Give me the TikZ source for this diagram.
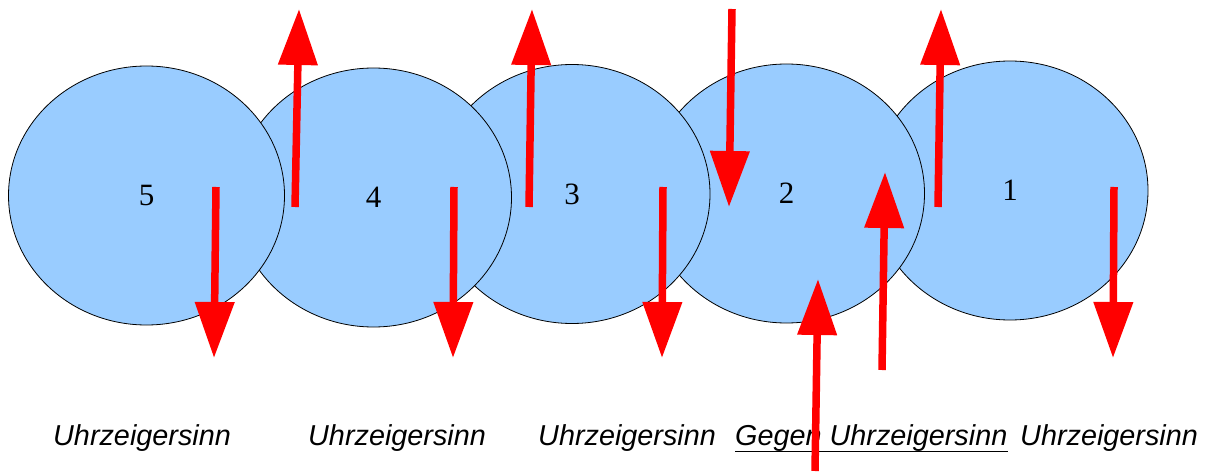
\documentclass[tikz,border=0pt]{standalone}
\usepackage{fontspec}
\setmainfont{Liberation Serif}
\newfontfamily\lblfont{Liberation Sans}
\usetikzlibrary{shapes.geometric,arrows.meta}
\definecolor{gearblue}{HTML}{99CCFF}
\definecolor{arrred}{HTML}{FF0000}
\tikzset{
  gear/.style={ellipse, draw=black, line width=0.8pt, fill=gearblue, inner sep=0pt,
    minimum width=276pt, minimum height=259pt, font=\fontsize{31}{31}\selectfont},
  sense/.style={anchor=base west, inner sep=0pt, font=\lblfont\itshape\fontsize{28.8}{28.8}\selectfont},
  force/.style={draw=arrred, line width=7.5pt,
    -{Triangle[length=56pt, width=38pt]}, arrred},
}
\begin{document}
\begin{tikzpicture}[x=1pt, y=-1pt]
\useasboundingbox (0,0) rectangle (1210,473);
% gears, drawn from 1 to 5 so the left one lies on top
\node[gear] (g1) at (1010,190.5) {1};
\node[gear] (g2) at (786.5,193.5) {2};
\node[gear] (g3) at (572,194) {3};
\node[gear] (g4) at (373.5,197.5) {4};
\node[gear] (g5) at (146.5,195.5) {5};
% labels
\node[sense] (t5) at (53,445) {Uhrzeigersinn};
\node[sense] (t4) at (308,445) {Uhrzeigersinn};
\node[sense] (t3) at (538,445) {Uhrzeigersinn};
\node[sense] (t2) at (735,445) {Gegen Uhrzeigersinn};
\node[sense] (t1) at (1020,445) {Uhrzeigersinn};
\draw[line width=1pt] ([yshift=-6pt]t2.base west) -- ([yshift=-6pt]t2.base east);
% arrow end points
\coordinate (a1s) at (216,187);  \coordinate (a1e) at (214,358);
\coordinate (a2s) at (295,207);  \coordinate (a2e) at (299,9);
\coordinate (a3s) at (454,187);  \coordinate (a3e) at (453,358);
\coordinate (a4s) at (529,207);  \coordinate (a4e) at (532,9);
\coordinate (a5s) at (663,187);  \coordinate (a5e) at (662,358);
\coordinate (a6s) at (732,9);    \coordinate (a6e) at (729,207);
\coordinate (a7s) at (882,370);  \coordinate (a7e) at (885,172);
\coordinate (a8s) at (815,471);  \coordinate (a8e) at (818,279);
\coordinate (a9s) at (938,207);  \coordinate (a9e) at (941,9);
\coordinate (a10s) at (1114,187); \coordinate (a10e) at (1113,358);
\foreach \i in {1,...,10} {\draw[force] (a\i s) -- (a\i e);}
\end{tikzpicture}
\end{document}
